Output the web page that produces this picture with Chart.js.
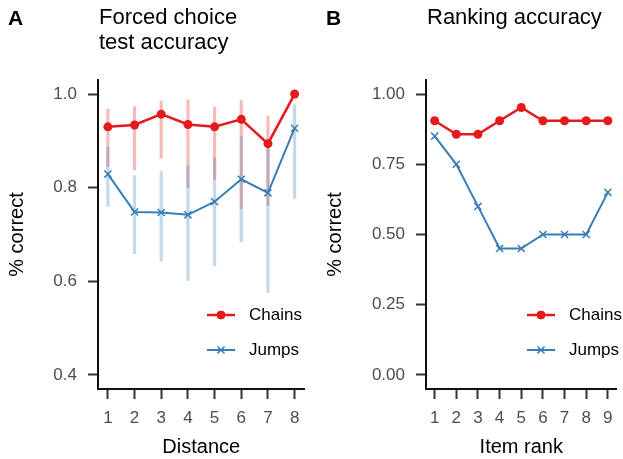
<!DOCTYPE html>
<html>
<head>
<meta charset="utf-8">
<style>
  body { margin: 0; background: #fff; }
  #wrap { position: relative; width: 623px; height: 459px; font-family: 'Liberation Sans', Arial, Helvetica, sans-serif; color: #000; }
  canvas { position: absolute; top: 0; }
  .lab { position: absolute; top: 5px; font-weight: bold; font-size: 21px; line-height: 25px; }
  .ttl { position: absolute; top: 4px; font-size: 22px; line-height: 25px; }
</style>
</head>
<body>
<div id="wrap">
  <canvas id="chartA" width="311" height="459" style="left:0"></canvas>
  <canvas id="chartB" width="312" height="459" style="left:311px"></canvas>
  <div class="lab" style="left:8px">A</div>
  <div class="ttl" style="left:99px">Forced choice<br>test accuracy</div>
  <div class="lab" style="left:326px">B</div>
  <div class="ttl" style="left:427px">Ranking accuracy</div>
</div>

<script src="https://cdn.jsdelivr.net/npm/chart.js@4/dist/chart.umd.min.js"></script>
<script>
  // panel A: forced choice accuracy by distance (mean + interval)
  const distance = [1, 2, 3, 4, 5, 6, 7, 8]
  const chainsAcc = [0.930, 0.934, 0.957, 0.935, 0.930, 0.946, 0.894, 1.0]
  const chainsLo = [0.845, 0.838, 0.863, 0.800, 0.817, 0.755, 0.762, 1.0]
  const chainsHi = [0.968, 0.973, 0.985, 0.987, 0.972, 0.986, 0.953, 1.0]
  const jumpsAcc = [0.829, 0.748, 0.747, 0.742, 0.770, 0.818, 0.789, 0.927]
  const jumpsLo = [0.760, 0.659, 0.643, 0.602, 0.633, 0.684, 0.576, 0.777]
  const jumpsHi = [0.886, 0.826, 0.835, 0.847, 0.864, 0.909, 0.888, 0.977]
  const yTicksA = [0.4, 0.6, 0.8, 1.0]

  // panel B: ranking accuracy by item rank
  const itemRank = [1, 2, 3, 4, 5, 6, 7, 8, 9]
  const rankChains = [0.905, 0.857, 0.857, 0.905, 0.952, 0.905, 0.905, 0.905, 0.905]
  const rankJumps = [0.85, 0.75, 0.60, 0.45, 0.45, 0.50, 0.50, 0.50, 0.65]
  const yTicksB = [0, 0.25, 0.5, 0.75, 1.0]

  const red = '#E41A1C'
  const blue = '#377EB8'
  const fontFam = "'Liberation Sans', Arial, Helvetica, sans-serif"

  const pts = (xs, ys) => xs.map((x, i) => ({ x: x, y: ys[i] }))
  const bars = (xs, lo, hi) => xs.map((x, i) => ({ x: x, y: [lo[i], hi[i]] }))

  // legend drawn inside the plot, ggplot style (line with marker)
  const insideLegend = {
    id: 'insideLegend',
    afterDraw(chart, args, opts) {
      const ctx = chart.ctx
      ctx.save()
      opts.items.forEach((it, i) => {
        const y = opts.y + i * opts.gap
        ctx.strokeStyle = it.color
        ctx.fillStyle = it.color
        ctx.lineWidth = it.lineWidth
        ctx.beginPath()
        ctx.moveTo(opts.x, y)
        ctx.lineTo(opts.x + 28, y)
        ctx.stroke()
        ctx.lineWidth = it.borderWidth
        Chart.helpers.drawPoint(ctx, { pointStyle: it.style, radius: it.radius, rotation: 0, borderWidth: it.borderWidth }, opts.x + 14, y)
        ctx.fillStyle = '#000'
        ctx.font = '17px ' + fontFam
        ctx.textBaseline = 'middle'
        ctx.textAlign = 'left'
        ctx.fillText(it.label, opts.x + 42, y)
      })
      ctx.restore()
    }
  }

  const legendItems = [
    { label: 'Chains', color: red, style: 'circle', radius: 4, lineWidth: 2.5, borderWidth: 1 },
    { label: 'Jumps', color: blue, style: 'crossRot', radius: 5, lineWidth: 2, borderWidth: 1.5 }
  ]

  function axes(o) {
    return {
      x: {
        type: 'linear', min: o.xMin, max: o.xMax, offset: false,
        afterBuildTicks: (s) => { s.ticks = o.xTicks.map((v) => ({ value: v })) },
        afterFit: (s) => { s.height = 70 },
        border: { display: true, color: '#111', width: 2 },
        grid: { display: true, offset: false, drawOnChartArea: false, drawTicks: true, tickLength: 10, tickWidth: 2, tickColor: '#333' },
        ticks: { color: '#4D4D4D', font: { family: fontFam, size: 17 }, padding: 9, maxRotation: 0 },
        title: { display: true, text: o.xTitle, color: '#000', font: { family: fontFam, size: 20 }, padding: { top: 0, bottom: 0 } }
      },
      y: {
        type: 'linear', min: o.yMin, max: o.yMax,
        afterBuildTicks: (s) => { s.ticks = o.yTicks.map((v) => ({ value: v })) },
        afterFit: (s) => { s.width = o.yWidth },
        border: { display: true, color: '#111', width: 2 },
        grid: { display: true, offset: false, drawOnChartArea: false, drawTicks: true, tickLength: 10, tickWidth: 2, tickColor: '#333' },
        ticks: { color: '#4D4D4D', font: { family: fontFam, size: 17 }, padding: 11, callback: (v) => v.toFixed(o.dec) },
        title: { display: true, text: '% correct', color: '#000', font: { family: fontFam, size: 20 }, padding: { top: o.yTitlePad, bottom: 0 } }
      }
    }
  }

  new Chart(document.getElementById('chartA'), {
    type: 'line',
    data: {
      datasets: [
        { type: 'bar', data: bars(distance, chainsLo, chainsHi), backgroundColor: 'rgba(228,26,28,0.3)', barThickness: 2.5, grouped: false, order: 3 },
        { type: 'bar', data: bars(distance, jumpsLo, jumpsHi), backgroundColor: 'rgba(55,126,184,0.3)', barThickness: 2.5, grouped: false, order: 2 },
        { label: 'Jumps', data: pts(distance, jumpsAcc), borderColor: blue, backgroundColor: blue, borderWidth: 2,
          pointStyle: 'crossRot', pointRadius: 5, pointBorderWidth: 1.5, tension: 0, order: 1 },
        { label: 'Chains', data: pts(distance, chainsAcc), borderColor: red, backgroundColor: red, borderWidth: 2.5,
          pointStyle: 'circle', pointRadius: 4.5, pointBorderWidth: 0, tension: 0, order: 0 }
      ]
    },
    options: {
      responsive: false, animation: false,
      layout: { padding: { left: 0, right: 6, top: 80, bottom: 0 } },
      plugins: { legend: { display: false }, tooltip: { enabled: false },
        insideLegend: { x: 207, y: 315, gap: 35, items: legendItems } },
      scales: axes({ xMin: 0.63, xMax: 8.37, xTicks: distance, xTitle: 'Distance',
        yMin: 0.37, yMax: 1.03, yTicks: yTicksA, dec: 1, yWidth: 98, yTitlePad: 5.5 })
    },
    plugins: [insideLegend]
  })

  new Chart(document.getElementById('chartB'), {
    type: 'line',
    data: {
      datasets: [
        { label: 'Jumps', data: pts(itemRank, rankJumps), borderColor: blue, backgroundColor: blue, borderWidth: 2,
          pointStyle: 'crossRot', pointRadius: 5, pointBorderWidth: 1.5, tension: 0, order: 1 },
        { label: 'Chains', data: pts(itemRank, rankChains), borderColor: red, backgroundColor: red, borderWidth: 2.5,
          pointStyle: 'circle', pointRadius: 4.5, pointBorderWidth: 0, tension: 0, order: 0 }
      ]
    },
    options: {
      responsive: false, animation: false,
      layout: { padding: { left: 0, right: 1, top: 80, bottom: 0 } },
      plugins: { legend: { display: false }, tooltip: { enabled: false },
        insideLegend: { x: 216, y: 315, gap: 35, items: legendItems } },
      scales: axes({ xMin: 0.6, xMax: 9.4, xTicks: itemRank, xTitle: 'Item rank',
        yMin: -0.05, yMax: 1.05, yTicks: yTicksB, dec: 2, yWidth: 115, yTitlePad: 12.5 })
    },
    plugins: [insideLegend]
  })
</script>
</body>
</html>
